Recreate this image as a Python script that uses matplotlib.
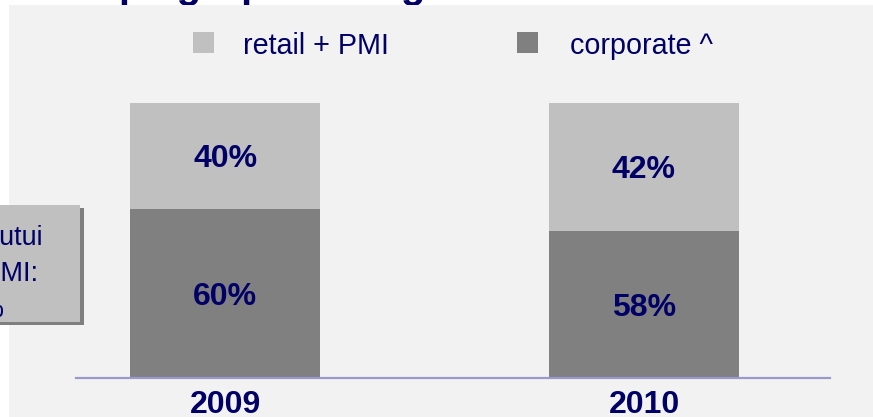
import matplotlib
matplotlib.use("Agg")
import matplotlib.pyplot as plt
from matplotlib.patches import Rectangle

# ---- data ----
years = ["2009", "2010"]
corporate = [61.4, 53.5]          # bar heights (%)
retail = [38.6, 46.5]
corporate_labels = ["60%", "58%"]
retail_labels = ["40%", "42%"]
legend_labels = ["retail + PMI", "corporate ^"]
title_text = "Structura pe grupe de segmente"
box_lines = ["total împrumutui", "retail + PMI:", "40%"]

# ---- style ----
W, H = 873, 417
DPI = 100
NAVY = "#000066"
C_RETAIL = "#c0c0c0"
C_CORP = "#808080"
BG = "#f2f2f2"
FONT = "Liberation Sans"

def fx(x):
    return x / W

def fy(y):
    return 1 - y / H

def px2pt(p):
    return p * 72.0 / DPI

fig = plt.figure(figsize=(W / DPI, H / DPI), dpi=DPI, facecolor="white")

# background panel
fig.patches.append(Rectangle((fx(9), 0), 1, fy(5), transform=fig.transFigure,
                             facecolor=BG, edgecolor="none", zorder=-10))

# title (mostly above the visible area)
fig.text(fx(-70), fy(-2), title_text, fontsize=px2pt(40), fontweight="bold",
         color=NAVY, family=FONT, ha="left", va="baseline", zorder=-11)

# axes
ax_left, ax_right = 75.7, 830
ax_bottom, ax_top = 377.7, 103
ax = fig.add_axes([fx(ax_left), fy(ax_bottom), fx(ax_right - ax_left),
                   (ax_bottom - ax_top) / H])
ax.set_facecolor("none")
xc = [0, 1]
ppu = 644 - 225.3
ax.set_xlim((ax_left - 225.3) / ppu, (ax_right - 225.3) / ppu)
ax.set_ylim(0, 100)
bw = 190 / ppu
ax.bar(xc, corporate, width=bw, color=C_CORP, zorder=2)
ax.bar(xc, retail, width=bw, bottom=corporate, color=C_RETAIL, zorder=2)
for s in ["top", "left", "right"]:
    ax.spines[s].set_visible(False)
ax.spines["bottom"].set_color("#9999cc")
ax.spines["bottom"].set_linewidth(1.6)
ax.spines["bottom"].set_zorder(3)
ax.set_xticks([])
ax.set_yticks([])

lab_fs = px2pt(32)
cap = 0.716 * lab_fs
for i in range(len(years)):
    ax.annotate(corporate_labels[i], xy=(xc[i], corporate[i] / 2),
                xytext=(0, -cap / 2), textcoords="offset points",
                ha="center", va="baseline", fontsize=lab_fs,
                fontweight="bold", color=NAVY, family=FONT, zorder=3)
    ax.annotate(retail_labels[i], xy=(xc[i], corporate[i] + retail[i] / 2),
                xytext=(0, -cap / 2), textcoords="offset points",
                ha="center", va="baseline", fontsize=lab_fs,
                fontweight="bold", color=NAVY, family=FONT, zorder=3)
    ax.annotate(years[i], xy=(xc[i], 0), xytext=(0, -px2pt(35.3)),
                textcoords="offset points", ha="center", va="baseline",
                fontsize=lab_fs, fontweight="bold", color=NAVY, family=FONT,
                annotation_clip=False)

# legend
leg_fs = px2pt(28.8)
for (sx, tx), lab, col in zip([(193, 243), (517, 570)], legend_labels,
                              [C_RETAIL, C_CORP]):
    fig.patches.append(Rectangle((fx(sx), fy(53)), fx(21), 21 / H,
                                 transform=fig.transFigure, facecolor=col,
                                 edgecolor="none", zorder=2))
    fig.text(fx(tx), fy(54), lab, fontsize=leg_fs, color=NAVY, family=FONT,
             ha="left", va="baseline")

# side note box (partly outside the figure)
fig.patches.append(Rectangle((fx(-20), fy(325)), fx(104), (325 - 208) / H,
                             transform=fig.transFigure, facecolor="#7f7f7f",
                             edgecolor="none", zorder=2))
fig.patches.append(Rectangle((fx(-20), fy(322)), fx(100), (322 - 205) / H,
                             transform=fig.transFigure, facecolor=C_RETAIL,
                             edgecolor="none", zorder=2.1))
box_fs = px2pt(27)
for line, (xr, yb) in zip(box_lines, [(43, 245), (38, 281), (4, 317)]):
    fig.text(fx(xr), fy(yb), line, fontsize=box_fs, color=NAVY, family=FONT,
             ha="right", va="baseline", zorder=3)

fig.savefig("out.png", dpi=DPI, facecolor="white")
